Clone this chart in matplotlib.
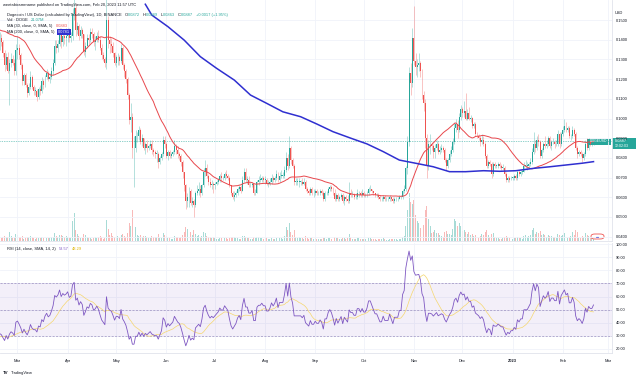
import numpy as np
import pandas as pd
import matplotlib
matplotlib.use("Agg")
import matplotlib.pyplot as plt
import matplotlib.dates as mdates
from matplotlib.patches import Rectangle, FancyBboxPatch

plt.rcParams["font.family"] = ["Liberation Sans", "DejaVu Sans"]

W, H = 640, 379

# ---- DOGE / USD daily candles (BINANCE, 1D) ----
first_day = "2022-02-18"
last_day = "2023-02-20"

# closes of the 30 days before the first visible candle (feed MA 30 and RSI)
warmup_close = [0.165, 0.150, 0.139, 0.131, 0.142, 0.141, 0.140, 0.140, 0.136, 0.140,
                0.141, 0.140, 0.142, 0.144, 0.138, 0.137, 0.147, 0.154, 0.156, 0.165,
                0.163, 0.162, 0.150, 0.142, 0.143, 0.144, 0.145, 0.152, 0.147, 0.137]

close = [
    # Feb 2022 (18-28)
    0.141, 0.139, 0.133, 0.127, 0.131, 0.124, 0.128, 0.130, 0.128, 0.124, 0.135,
    # Mar
    0.136, 0.132, 0.127, 0.119, 0.122, 0.117, 0.113, 0.116, 0.121, 0.116, 0.114, 0.114, 0.111, 0.115, 0.114, 0.119,
    0.117, 0.121, 0.123, 0.120, 0.121, 0.124, 0.128, 0.137, 0.136, 0.138, 0.143, 0.139, 0.142, 0.141, 0.142,
    # Apr
    0.144, 0.141, 0.142, 0.153, 0.156, 0.145, 0.147, 0.142, 0.145, 0.143, 0.134, 0.137, 0.141, 0.140, 0.144,
    0.143, 0.139, 0.140, 0.142, 0.140, 0.136, 0.132, 0.130, 0.128, 0.150, 0.140, 0.138, 0.137, 0.133, 0.128,
    # May
    0.131, 0.131, 0.129, 0.136, 0.127, 0.124, 0.120, 0.112, 0.099, 0.101, 0.085, 0.085, 0.091, 0.091, 0.094, 0.088,
    0.090, 0.085, 0.087, 0.085, 0.086, 0.087, 0.084, 0.083, 0.082, 0.082, 0.078, 0.080, 0.082, 0.089, 0.087,
    # Jun
    0.081, 0.083, 0.081, 0.082, 0.083, 0.086, 0.084, 0.082, 0.081, 0.078, 0.073, 0.066, 0.058, 0.060, 0.063,
    0.057, 0.058, 0.056, 0.062, 0.063, 0.064, 0.062, 0.066, 0.073, 0.075, 0.071, 0.068, 0.066, 0.067, 0.066,
    # Jul
    0.067, 0.068, 0.069, 0.071, 0.070, 0.070, 0.072, 0.071, 0.070, 0.066, 0.062, 0.060, 0.061, 0.062, 0.064, 0.065,
    0.063, 0.069, 0.073, 0.069, 0.069, 0.066, 0.066, 0.067, 0.062, 0.062, 0.068, 0.069, 0.069, 0.070, 0.069,
    # Aug
    0.069, 0.067, 0.067, 0.068, 0.070, 0.069, 0.070, 0.072, 0.069, 0.071, 0.071, 0.071, 0.074, 0.080, 0.076, 0.085,
    0.079, 0.076, 0.068, 0.068, 0.068, 0.068, 0.068, 0.067, 0.068, 0.064, 0.063, 0.062, 0.064, 0.062, 0.062,
    # Sep
    0.063, 0.062, 0.062, 0.063, 0.062, 0.059, 0.062, 0.062, 0.064, 0.065, 0.064, 0.062, 0.059, 0.061, 0.059,
    0.060, 0.061, 0.058, 0.060, 0.059, 0.058, 0.062, 0.061, 0.061, 0.060, 0.060, 0.062, 0.062, 0.061, 0.062,
    # Oct
    0.061, 0.061, 0.062, 0.064, 0.064, 0.063, 0.062, 0.061, 0.061, 0.060, 0.059, 0.059, 0.060, 0.059, 0.059, 0.059,
    0.060, 0.059, 0.058, 0.059, 0.059, 0.059, 0.060, 0.060, 0.063, 0.064, 0.075, 0.088, 0.123, 0.118, 0.141,
    # Nov
    0.129, 0.126, 0.127, 0.128, 0.124, 0.112, 0.108, 0.090, 0.076, 0.087, 0.087, 0.086, 0.083, 0.085, 0.087,
    0.083, 0.084, 0.085, 0.084, 0.079, 0.076, 0.079, 0.082, 0.084, 0.088, 0.095, 0.097, 0.094, 0.101, 0.105,
    # Dec
    0.103, 0.104, 0.100, 0.103, 0.100, 0.100, 0.096, 0.097, 0.092, 0.091, 0.090, 0.088, 0.089, 0.087, 0.081, 0.076,
    0.078, 0.077, 0.072, 0.077, 0.076, 0.076, 0.077, 0.076, 0.075, 0.075, 0.072, 0.069, 0.070, 0.069, 0.070,
    # Jan 2023
    0.070, 0.071, 0.070, 0.073, 0.072, 0.073, 0.073, 0.076, 0.076, 0.076, 0.077, 0.078, 0.083, 0.087, 0.085, 0.089,
    0.088, 0.081, 0.084, 0.087, 0.086, 0.087, 0.090, 0.086, 0.088, 0.088, 0.087, 0.087, 0.092, 0.087, 0.092,
    # Feb 2023 (1-20)
    0.094, 0.096, 0.094, 0.095, 0.091, 0.091, 0.094, 0.092, 0.085, 0.082, 0.083, 0.082, 0.080, 0.082, 0.087,
    0.085, 0.088, 0.087, 0.0870, 0.0887,
]

high = [
    0.144, 0.143, 0.140, 0.135, 0.133, 0.134, 0.130, 0.133, 0.132, 0.130, 0.138,
    0.142, 0.138, 0.133, 0.128, 0.123, 0.123, 0.118, 0.118, 0.124, 0.122, 0.117, 0.116, 0.115, 0.116, 0.117, 0.121,
    0.120, 0.122, 0.125, 0.124, 0.123, 0.126, 0.130, 0.140, 0.140, 0.140, 0.146, 0.146, 0.145, 0.144, 0.146,
    0.146, 0.146, 0.144, 0.156, 0.172, 0.158, 0.149, 0.148, 0.147, 0.146, 0.143, 0.139, 0.143, 0.143, 0.146,
    0.146, 0.144, 0.142, 0.144, 0.145, 0.142, 0.138, 0.134, 0.131, 0.162, 0.152, 0.142, 0.141, 0.139, 0.134,
    0.132, 0.133, 0.132, 0.138, 0.137, 0.128, 0.125, 0.121, 0.113, 0.108, 0.103, 0.091, 0.094, 0.093, 0.096, 0.095,
    0.092, 0.090, 0.088, 0.089, 0.087, 0.089, 0.089, 0.085, 0.084, 0.084, 0.083, 0.081, 0.083, 0.091, 0.091,
    0.088, 0.084, 0.084, 0.083, 0.084, 0.089, 0.087, 0.086, 0.083, 0.082, 0.079, 0.073, 0.067, 0.062, 0.065,
    0.064, 0.060, 0.059, 0.063, 0.066, 0.068, 0.066, 0.067, 0.075, 0.079, 0.077, 0.072, 0.070, 0.069, 0.068,
    0.068, 0.069, 0.070, 0.072, 0.073, 0.071, 0.073, 0.074, 0.072, 0.071, 0.066, 0.063, 0.063, 0.063, 0.065, 0.066,
    0.066, 0.071, 0.075, 0.075, 0.071, 0.071, 0.068, 0.068, 0.067, 0.064, 0.069, 0.071, 0.072, 0.071, 0.071,
    0.071, 0.070, 0.069, 0.070, 0.072, 0.071, 0.071, 0.074, 0.073, 0.073, 0.074, 0.073, 0.076, 0.083, 0.082, 0.091,
    0.086, 0.080, 0.077, 0.070, 0.070, 0.070, 0.069, 0.070, 0.070, 0.069, 0.065, 0.064, 0.065, 0.065, 0.064,
    0.064, 0.064, 0.063, 0.064, 0.064, 0.063, 0.063, 0.063, 0.065, 0.066, 0.066, 0.065, 0.064, 0.062, 0.062,
    0.061, 0.062, 0.062, 0.061, 0.061, 0.061, 0.068, 0.064, 0.063, 0.062, 0.062, 0.064, 0.063, 0.063, 0.064,
    0.063, 0.062, 0.063, 0.065, 0.066, 0.064, 0.063, 0.062, 0.062, 0.062, 0.061, 0.060, 0.061, 0.061, 0.060, 0.060,
    0.061, 0.060, 0.060, 0.060, 0.060, 0.060, 0.061, 0.061, 0.064, 0.066, 0.076, 0.091, 0.126, 0.128, 0.146,
    0.157, 0.133, 0.130, 0.133, 0.129, 0.125, 0.114, 0.110, 0.092, 0.089, 0.092, 0.088, 0.087, 0.087, 0.089,
    0.088, 0.086, 0.087, 0.086, 0.085, 0.080, 0.080, 0.084, 0.086, 0.090, 0.098, 0.100, 0.099, 0.103, 0.107,
    0.106, 0.109, 0.113, 0.105, 0.106, 0.102, 0.101, 0.098, 0.098, 0.093, 0.092, 0.091, 0.092, 0.091, 0.088, 0.082,
    0.079, 0.079, 0.078, 0.078, 0.078, 0.077, 0.078, 0.078, 0.077, 0.077, 0.076, 0.073, 0.071, 0.071, 0.071,
    0.071, 0.072, 0.072, 0.074, 0.074, 0.074, 0.074, 0.078, 0.079, 0.078, 0.078, 0.080, 0.085, 0.093, 0.089, 0.091,
    0.092, 0.089, 0.085, 0.088, 0.091, 0.089, 0.091, 0.091, 0.089, 0.090, 0.089, 0.089, 0.094, 0.093, 0.093,
    0.096, 0.100, 0.098, 0.096, 0.096, 0.092, 0.096, 0.095, 0.093, 0.086, 0.084, 0.084, 0.083, 0.083, 0.089,
    0.090, 0.090, 0.089, 0.089, 0.0889,
]

low = [
    0.135, 0.137, 0.131, 0.124, 0.125, 0.123, 0.107, 0.126, 0.127, 0.122, 0.122,
    0.130, 0.130, 0.125, 0.117, 0.117, 0.116, 0.111, 0.112, 0.115, 0.115, 0.112, 0.112, 0.109, 0.110, 0.112, 0.113,
    0.115, 0.116, 0.120, 0.119, 0.118, 0.120, 0.122, 0.127, 0.133, 0.134, 0.137, 0.136, 0.137, 0.138, 0.137,
    0.139, 0.139, 0.139, 0.140, 0.150, 0.142, 0.143, 0.140, 0.141, 0.141, 0.132, 0.131, 0.136, 0.138, 0.139,
    0.141, 0.137, 0.135, 0.139, 0.139, 0.135, 0.130, 0.129, 0.126, 0.125, 0.136, 0.133, 0.134, 0.131, 0.127,
    0.126, 0.127, 0.127, 0.128, 0.125, 0.121, 0.118, 0.110, 0.097, 0.093, 0.080, 0.065, 0.083, 0.088, 0.089, 0.087,
    0.086, 0.084, 0.082, 0.083, 0.084, 0.085, 0.082, 0.081, 0.080, 0.078, 0.075, 0.077, 0.079, 0.081, 0.085,
    0.080, 0.079, 0.080, 0.080, 0.081, 0.082, 0.082, 0.080, 0.079, 0.076, 0.070, 0.063, 0.054, 0.055, 0.055,
    0.056, 0.055, 0.050, 0.055, 0.061, 0.061, 0.060, 0.061, 0.065, 0.071, 0.070, 0.066, 0.065, 0.064, 0.062,
    0.064, 0.066, 0.067, 0.068, 0.068, 0.069, 0.069, 0.070, 0.069, 0.065, 0.061, 0.059, 0.058, 0.060, 0.061, 0.063,
    0.062, 0.063, 0.068, 0.068, 0.067, 0.065, 0.065, 0.065, 0.061, 0.061, 0.062, 0.066, 0.068, 0.068, 0.068,
    0.067, 0.066, 0.065, 0.066, 0.067, 0.068, 0.068, 0.069, 0.068, 0.068, 0.070, 0.070, 0.070, 0.073, 0.074, 0.075,
    0.077, 0.075, 0.066, 0.066, 0.066, 0.065, 0.066, 0.066, 0.066, 0.063, 0.062, 0.061, 0.061, 0.061, 0.060,
    0.061, 0.061, 0.061, 0.061, 0.061, 0.058, 0.058, 0.061, 0.061, 0.063, 0.063, 0.061, 0.058, 0.058, 0.058,
    0.058, 0.059, 0.057, 0.056, 0.058, 0.057, 0.057, 0.060, 0.060, 0.059, 0.059, 0.059, 0.060, 0.060, 0.060,
    0.060, 0.060, 0.060, 0.061, 0.063, 0.062, 0.061, 0.060, 0.060, 0.059, 0.058, 0.058, 0.058, 0.058, 0.058, 0.058,
    0.058, 0.058, 0.057, 0.057, 0.058, 0.058, 0.059, 0.059, 0.059, 0.062, 0.063, 0.072, 0.086, 0.112, 0.116,
    0.127, 0.122, 0.121, 0.124, 0.121, 0.110, 0.104, 0.085, 0.070, 0.074, 0.082, 0.084, 0.080, 0.080, 0.084,
    0.082, 0.082, 0.083, 0.083, 0.078, 0.074, 0.075, 0.078, 0.081, 0.083, 0.087, 0.093, 0.090, 0.093, 0.099,
    0.101, 0.101, 0.099, 0.099, 0.099, 0.098, 0.095, 0.095, 0.091, 0.090, 0.089, 0.086, 0.087, 0.086, 0.080, 0.075,
    0.075, 0.076, 0.070, 0.071, 0.075, 0.075, 0.075, 0.075, 0.074, 0.074, 0.071, 0.068, 0.068, 0.068, 0.069,
    0.069, 0.069, 0.069, 0.069, 0.071, 0.071, 0.072, 0.073, 0.075, 0.074, 0.075, 0.076, 0.077, 0.082, 0.083, 0.084,
    0.086, 0.080, 0.080, 0.083, 0.085, 0.085, 0.086, 0.085, 0.084, 0.087, 0.085, 0.086, 0.086, 0.085, 0.086,
    0.091, 0.093, 0.093, 0.093, 0.090, 0.089, 0.090, 0.091, 0.084, 0.080, 0.081, 0.081, 0.078, 0.079, 0.081,
    0.084, 0.084, 0.086, 0.086, 0.0863,
]

# daily volume, millions of DOGE
volume = [
    40, 25, 35, 45, 40, 40, 90, 45, 25, 30, 70,
    55, 40, 35, 45, 20, 25, 40, 35, 45, 35, 25, 15, 25, 30, 30, 40, 25, 30, 30, 25, 25, 35, 40, 80, 45, 35, 60, 55, 45, 35, 45,
    35, 30, 25, 200, 270, 110, 70, 50, 30, 30, 70, 55, 35, 30, 30, 20, 25, 40, 30, 40, 45, 35, 20, 25, 210, 120, 60, 75, 45, 40,
    35, 45, 30, 60, 70, 45, 40, 75, 180, 150, 300, 320, 140, 55, 50, 60, 40, 50, 50, 40, 25, 25, 45, 35, 40, 40, 70, 30, 25, 80, 60,
    50, 30, 25, 15, 20, 50, 40, 35, 25, 40, 60, 90, 140, 120, 130, 90, 60, 110, 70, 50, 60, 40, 45, 90, 80, 50, 40, 35, 30, 40,
    30, 15, 15, 25, 30, 20, 25, 30, 15, 25, 40, 35, 35, 25, 25, 20, 20, 50, 45, 40, 30, 25, 20, 20, 35, 30, 40, 35, 30, 25, 20,
    25, 25, 15, 20, 25, 15, 15, 30, 25, 30, 25, 20, 50, 140, 110, 180, 90, 60, 110, 40, 30, 40, 25, 25, 20, 45, 25, 20, 30, 25, 20,
    25, 20, 15, 15, 15, 30, 25, 20, 30, 30, 20, 25, 40, 25, 25, 20, 15, 25, 30, 20, 30, 70, 35, 20, 15, 20, 30, 25, 20, 20,
    15, 15, 20, 30, 25, 20, 20, 15, 10, 20, 20, 15, 30, 20, 10, 10, 15, 15, 20, 15, 20, 10, 15, 20, 40, 50, 150, 300, 470, 380, 360,
    400, 250, 200, 180, 130, 180, 160, 300, 340, 220, 150, 80, 90, 110, 80, 80, 60, 50, 40, 90, 100, 70, 70, 60, 120, 220, 200, 150, 180, 150,
    100, 110, 90, 70, 90, 60, 70, 50, 60, 30, 30, 50, 70, 60, 90, 110, 60, 40, 70, 80, 40, 30, 30, 20, 20, 25, 40, 50, 35, 30, 20,
    20, 25, 30, 40, 25, 30, 20, 50, 60, 40, 45, 60, 110, 130, 70, 90, 80, 100, 60, 70, 60, 40, 60, 50, 50, 40, 35, 30, 70, 60, 50,
    60, 80, 50, 30, 40, 50, 90, 60, 110, 90, 30, 30, 50, 40, 80, 60, 50, 30, 30, 21.07,
]
last_open = 0.0872

# MA 200 line
sma200_dates = ["2022-05-19", "2022-05-23", "2022-06-02", "2022-06-12", "2022-06-22", "2022-07-02",
                "2022-07-13", "2022-07-23", "2022-08-02", "2022-08-12", "2022-08-23", "2022-09-02",
                "2022-09-12", "2022-09-23", "2022-10-03", "2022-10-13", "2022-10-23", "2022-11-02",
                "2022-11-13", "2022-11-23", "2022-12-03", "2022-12-14", "2022-12-24", "2023-01-03",
                "2023-01-14", "2023-01-24", "2023-02-03", "2023-02-13", "2023-02-20"]
sma200_values = [0.1580, 0.1525, 0.1466, 0.1398, 0.1314, 0.1255, 0.1195, 0.1119, 0.1077, 0.1034,
                 0.1009, 0.0972, 0.0933, 0.0900, 0.0871, 0.0832, 0.0789, 0.0773, 0.0755, 0.0730,
                 0.0730, 0.0735, 0.0732, 0.0735, 0.0747, 0.0755, 0.0764, 0.0773, 0.0781]

month_ticks = ["2022-03-01", "2022-04-01", "2022-05-01", "2022-06-01", "2022-07-01", "2022-08-01",
               "2022-09-01", "2022-10-01", "2022-11-01", "2022-12-01", "2023-01-01", "2023-02-01",
               "2023-03-01"]
month_labels = ["Mar", "Apr", "May", "Jun", "Jul", "Aug", "Sep", "Oct", "Nov", "Dec", "2023", "Feb", "Mar"]
price_ticks = [0.04, 0.05, 0.06, 0.07, 0.08, 0.09, 0.10, 0.11, 0.12, 0.13, 0.14, 0.15]
rsi_ticks = [20, 30, 40, 50, 60, 70, 80, 90, 100]

UP, DOWN = "#26a69a", "#ef5350"
TXT = "#131722"
GRID = "#f0f3fa"
SEP = "#e0e3eb"

# ---- derived series ----
dates = pd.date_range(first_day, last_day, freq="D")
x = mdates.date2num(dates)
c = np.array(close)
hi = np.array(high)
lo = np.array(low)
o = np.r_[warmup_close[-1], c[:-1]]
o[-1] = last_open
is_up = c >= o

full = pd.Series(warmup_close + close)
ma30 = full.rolling(30).mean().values[len(warmup_close):]
delta = full.diff()
gain = delta.clip(lower=0).ewm(alpha=1 / 14, adjust=False).mean()
loss = (-delta.clip(upper=0)).ewm(alpha=1 / 14, adjust=False).mean()
rsi_full = 100 - 100 / (1 + gain / loss)
rsi_ma_full = rsi_full.rolling(14).mean()
rsi = rsi_full.values[len(warmup_close):]
rsi_ma = rsi_ma_full.values[len(warmup_close):]


def px(xp, yp):
    return xp / W, 1 - yp / H


fig = plt.figure(figsize=(W / 100, H / 100), dpi=100)
fig.patch.set_facecolor("white")

ax = fig.add_axes([0, 1 - 241 / H, 612 / W, 241 / H])
rax = fig.add_axes([0, 1 - 353 / H, 612 / W, 110 / H], sharex=ax)

mar1 = mdates.date2num(pd.Timestamp("2022-03-01"))
ax.set_xlim(mar1 - 17.5 / 1.618, mar1 + (612 - 17.5) / 1.618)
ax.set_ylim(0.15 - 221 / 1970, 0.15 + 20 / 1970)

# volume underneath
vax = ax.twinx()
vax.set_zorder(1)
ax.set_zorder(2)
ax.patch.set_visible(False)
vcol = [UP if u else DOWN for u in is_up]
vax.bar(x, volume, width=0.6, color=vcol, alpha=0.4, linewidth=0)
vax.set_ylim(0, 470 * 241 / 48)
vax.axis("off")

# candles
col = np.where(is_up, UP, DOWN)
ax.vlines(x, lo, hi, colors=col, linewidth=0.4, alpha=0.6, zorder=3)
ax.bar(x, np.maximum(np.abs(c - o), 0.00025), bottom=np.minimum(o, c), width=0.6,
       color=col, linewidth=0, zorder=4)

ax.plot(x, ma30, color="#e8474c", linewidth=0.7, zorder=5)
ax.plot(mdates.date2num(pd.to_datetime(sma200_dates)), sma200_values,
        color="#2f2fd0", linewidth=1.1, zorder=5)
ax.axhline(c[-1], color=UP, linewidth=0.5, linestyle=(0, (1, 1.5)), zorder=2)

# grid and axes styling
for a in (ax, rax):
    a.set_xticks(mdates.date2num(pd.to_datetime(month_ticks)))
    a.grid(True, color=GRID, linewidth=0.6)
    a.set_axisbelow(True)
    for s in ("left", "top"):
        a.spines[s].set_visible(False)
    for s in ("right", "bottom"):
        a.spines[s].set_color(SEP)
        a.spines[s].set_linewidth(0.6)
    a.yaxis.tick_right()
    a.tick_params(axis="y", length=0, pad=2.6, labelsize=2.9, labelcolor=TXT)
    a.tick_params(axis="x", length=0)

ax.set_yticks(price_ticks)
ax.set_yticklabels([f"{v:.4f}" for v in price_ticks])
ax.tick_params(axis="x", labelbottom=False)

# RSI pane
rax.set_ylim(20 - 4 / 1.3125, 100 + 1 / 1.3125)
rax.set_yticks(rsi_ticks)
rax.set_yticklabels([f"{v:.2f}" for v in rsi_ticks])
rax.axhspan(30, 70, color="#7e57c2", alpha=0.09, linewidth=0)
for lvl in (70, 50, 30):
    rax.axhline(lvl, color="#9b8fc0", linewidth=0.5, linestyle=(0, (3, 2)))
rax.plot(x, rsi_ma, color="#f5d76e", linewidth=0.5)
rax.plot(x, rsi, color="#7e57c2", linewidth=0.6)
rax.set_xticklabels(month_labels)
rax.tick_params(axis="x", labelsize=2.9, labelcolor=TXT, pad=4.2)
for lab in rax.get_xticklabels():
    if lab.get_text() == "2023":
        lab.set_fontweight("bold")

# ---- header texts ----
renderer = fig.canvas.get_renderer()


def text_run(y, x0, parts, size=2.9):
    xp = x0
    for s, color, gap, box in parts:
        t = fig.text(*px(xp, y), s, color=color, fontsize=size, va="center", ha="left")
        if box:
            t.set_bbox(dict(boxstyle="square,pad=0.25", fc=box, ec="none"))
        xp += t.get_window_extent(renderer).width + gap


text_run(5, 3, [("weetabixsmrname published on TradingView.com, Feb 20, 2023 11:57 UTC", TXT, 0, None)])
text_run(14.7, 7, [
    ("Dogecoin / US Dollar (calculated by TradingView), 1D, BINANCE", TXT, 3, None),
    ("O", TXT, 0.3, None), (f"{last_open:.4f}", UP, 2.5, None),
    ("H", TXT, 0.3, None), (f"{hi[-1]:.4f}", UP, 2.5, None),
    ("L", TXT, 0.3, None), (f"{lo[-1]:.4f}", UP, 2.5, None),
    ("C", TXT, 0.3, None), (f"{c[-1]:.4f}", UP, 2.5, None),
    (f"+{c[-1] - c[-2]:.4f} (+{(c[-1] - c[-2]) / c[-2] * 100:.2f}%)", UP, 0, None),
])
text_run(20.3, 7, [("Vol · DOGE", TXT, 3, None), (f"{volume[-1]:.2f}M", UP, 0, None)])
text_run(26, 7, [("MA (30, close, 0, SMA, 5)", TXT, 3, None), (f"{ma30[-1]:.4f}", DOWN, 0, None)])
text_run(31.7, 7, [("MA (200, close, 0, SMA, 5)", TXT, 3.5, None),
                   (f"{sma200_values[-1]:.4f}", "white", 0, "#2f2fd0")])
text_run(249, 7, [("RSI (14, close, SMA, 14, 2)", TXT, 3, None),
                  (f"{rsi[-1]:.2f}", "#7e57c2", 3, None), (f"{rsi_ma[-1]:.2f}", "#e0b400", 0, None)])

fig.text(*px(615, 12.5), "USD", fontsize=2.9, color=TXT, va="center")

# last price tag on the price scale
fig.patches.append(Rectangle(px(612, 149), 24 / W, 11 / H, transform=fig.transFigure,
                             facecolor=UP, edgecolor="none"))
fig.text(*px(615, 141.3), f"{c[-1]:.4f}", fontsize=2.9, color="white", va="center")
fig.text(*px(615, 146.3), "12:02:03", fontsize=2.6, color="white", va="center")
fig.patches.append(Rectangle(px(587, 144.5), 24 / W, 6 / H, transform=fig.transFigure,
                             facecolor=UP, edgecolor="none"))
fig.text(*px(599, 141.4), "DOGEUSD", fontsize=2.5, color="white", va="center", ha="center")

# small events badge at the bottom of the price pane
fig.patches.append(FancyBboxPatch(px(591, 239), 13 / W, 5 / H, transform=fig.transFigure,
                                  boxstyle="round,pad=0,rounding_size=0.006",
                                  facecolor="white", edgecolor=DOWN, linewidth=0.6))
fig.text(*px(597.5, 236.5), "●●", fontsize=2.4, color="#2f2fd0", va="center", ha="center")

# TradingView mark
fig.text(*px(3, 373), "TV", fontsize=3.2, color=TXT, fontweight="bold", va="center")
fig.text(*px(11, 373), "TradingView", fontsize=2.9, color=TXT, va="center")

fig.savefig("out.png", dpi=100, facecolor="white")
